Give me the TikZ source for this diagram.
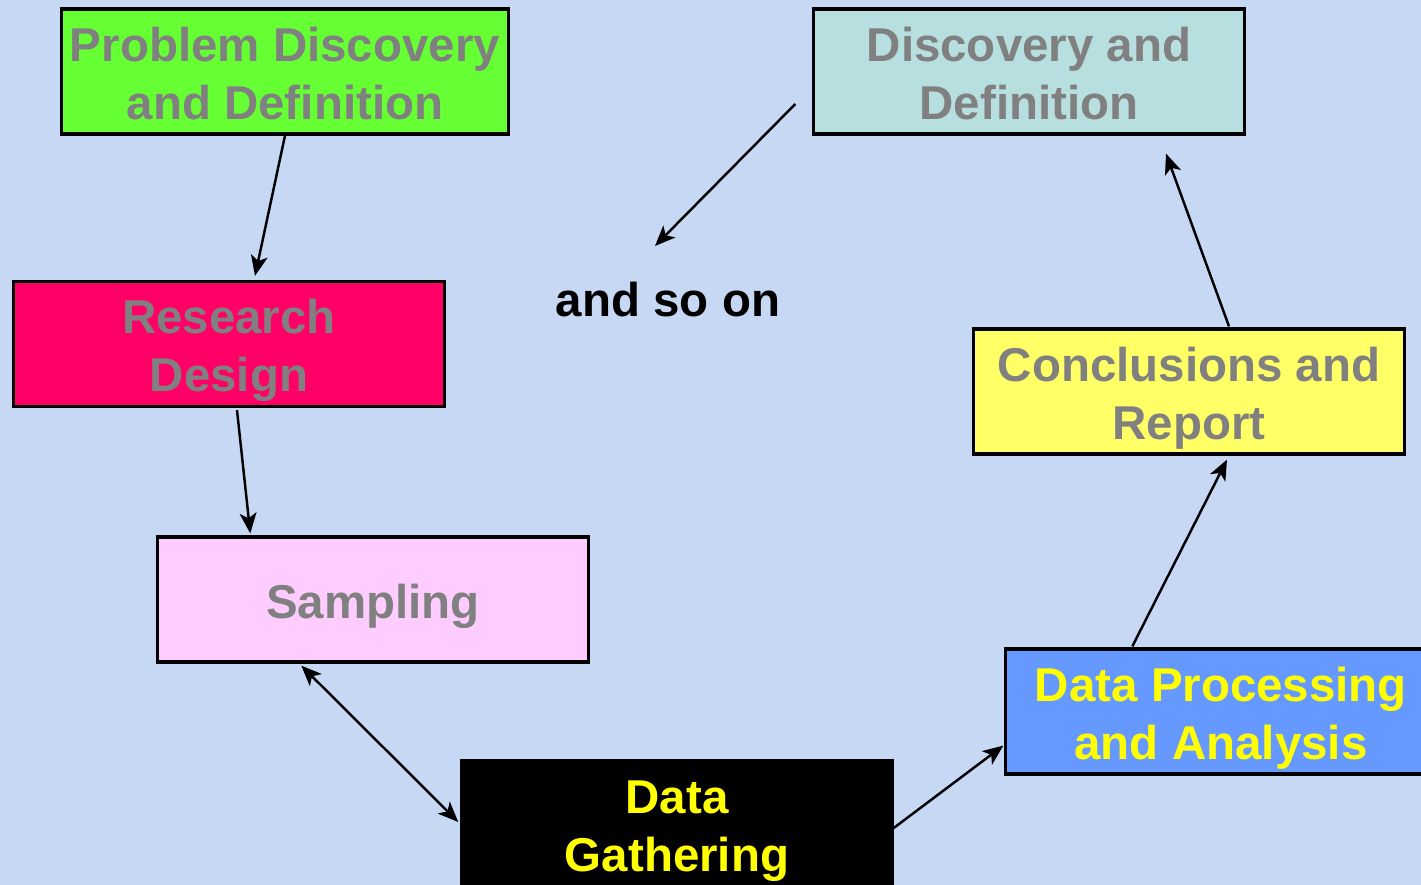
\documentclass[tikz,border=0pt]{standalone}
\usepackage{fontspec}
\setmainfont{Liberation Sans}
\usetikzlibrary{calc,arrows.meta}
\definecolor{bgblue}{RGB}{198,216,244}
\definecolor{txtgray}{RGB}{128,128,128}
\definecolor{pdgreen}{RGB}{102,255,51}
\definecolor{ddteal}{RGB}{184,223,224}
\definecolor{rdpink}{RGB}{255,0,102}
\definecolor{salilac}{RGB}{255,204,255}
\definecolor{dpblue}{RGB}{102,153,255}
\definecolor{cryellow}{RGB}{255,255,102}
\definecolor{txtyellow}{RGB}{255,255,0}
\newcommand{\pstrut}{\rule[-0.212em]{0pt}{\dimexpr 1.117em+1.4pt\relax}}
\tikzset{
  stagebox/.style={draw=black, line width=0.9pt, minimum width=4.3cm, minimum height=1.25cm,
    inner sep=0pt, align=center, text=txtgray, font=\bfseries\fontsize{13.5}{16.5}\selectfont},
  arr/.style={line width=0.7pt, -{Stealth[length=5.8pt,width=4.8pt,inset=1.5pt]}},
  darr/.style={line width=0.7pt, {Stealth[length=5.8pt,width=4.8pt,inset=1.5pt]}-{Stealth[length=5.8pt,width=4.8pt,inset=1.5pt]}}
}
\begin{document}
\begin{tikzpicture}[x=0.01cm,y=-0.01cm]
\useasboundingbox (0,0) rectangle (1421,885);
\clip (0,0) rectangle (1421,885);
\fill[bgblue] (0,0) rectangle (1421,885);
\node[stagebox, fill=pdgreen, minimum width=4.46cm] (pd) at (285,71.5) {\pstrut Problem Discovery\\\pstrut and Definition};
\node[stagebox, fill=ddteal] (dd) at (1029,71.5) {\pstrut Discovery and\\\pstrut Definition};
\node[stagebox, fill=rdpink] (rd) at (229,344) {\pstrut Research\\\pstrut Design};
\node[stagebox, fill=salilac] (sa) at (373,599.5) {\pstrut Sampling};
\node[stagebox, fill=black, text=txtyellow] (dg) at (677,823.5) {\pstrut Data\\\pstrut Gathering};
\node[stagebox, fill=dpblue, text=txtyellow] (dp) at (1221,711.5) {\pstrut Data Processing\\\pstrut and Analysis};
\node[stagebox, fill=cryellow] (cr) at (1189,391.5) {\pstrut Conclusions and\\\pstrut Report};
\node[font=\bfseries\fontsize{13.5}{16.5}\selectfont, text=black, inner sep=0pt] (so) at (668,298) {\pstrut and so on};
\coordinate (free) at (655,246);
\draw[arr] (pd.south) -- ($(rd.north)+(26,-4)$);
\draw[arr] ($(rd.south)+(8,2)$) -- ($(sa.north west)+(94,-2)$);
\draw[darr] ($(sa.south west)+(145,2)$) -- ($(dg.west)+(-2,-1.5)$);
\draw[arr] ($(dg.east)+(0,4.5)$) -- ($(dp.south west)+(-1,-30)$);
\draw[arr] ($(dp.north west)+(128,-1)$) -- ($(cr.south)+(38,4)$);
\draw[arr] ($(cr.north)+(40,-1)$) -- ($(dd.south)+(137,18)$);
\draw[arr] ($(dd.west)+(-17,32.5)$) -- (free);
\end{tikzpicture}
\end{document}
